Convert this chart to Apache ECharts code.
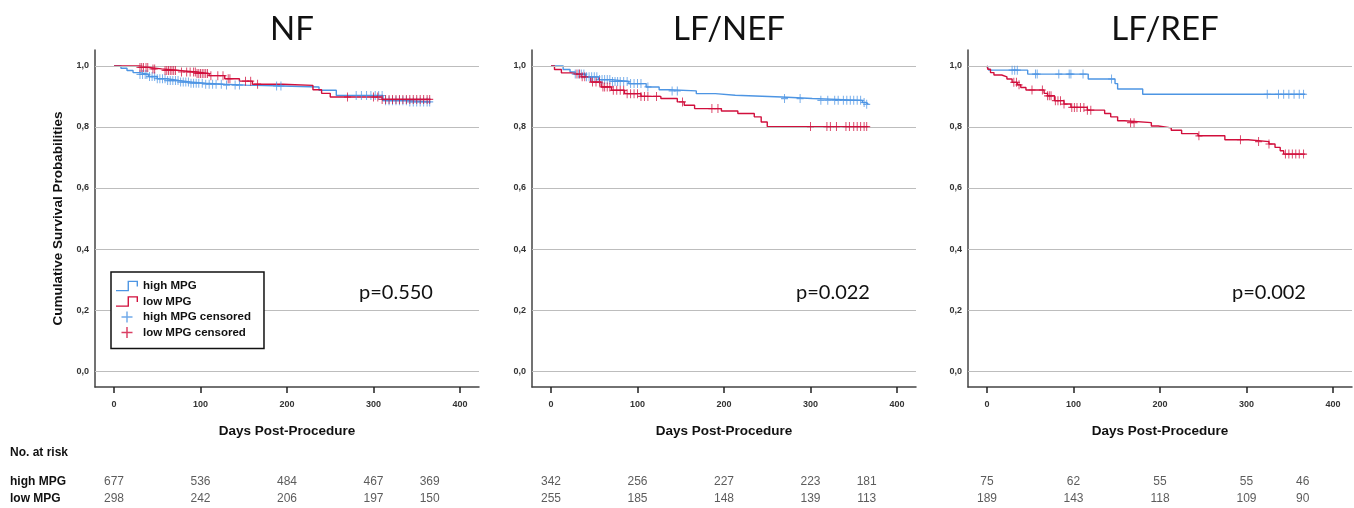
<!DOCTYPE html>
<html>
<head>
<meta charset="utf-8">
<script src="https://cdn.jsdelivr.net/npm/echarts@6/dist/echarts.min.js"></script>
<style>
  html, body { margin: 0; padding: 0; background: #fff; }
  #chart { width: 1354px; height: 508px; }
</style>
</head>
<body>
<div id="chart"></div>
<script>
// panels
const panelTitles = ['NF', 'LF/NEF', 'LF/REF']
const pValues = ['p=0.550', 'p=0.022', 'p=0.002']

// Kaplan-Meier steps: time (days) and survival after that time
const nfHighT = [0, 8, 15, 22, 30, 40, 50, 61, 75, 88, 105, 126, 153, 195, 237, 257, 311, 340, 366]
const nfHighS = [1, 0.992, 0.985, 0.978, 0.972, 0.965, 0.958, 0.952, 0.947, 0.943, 0.94, 0.937, 0.934, 0.931, 0.92, 0.903, 0.886, 0.882, 0.882]
const nfLowT = [0, 29, 40, 55, 75, 95, 110, 128, 145, 160, 195, 230, 240, 250, 310, 366]
const nfLowS = [1, 0.995, 0.99, 0.985, 0.98, 0.975, 0.968, 0.958, 0.95, 0.94, 0.936, 0.922, 0.91, 0.898, 0.89, 0.89]

const nefHighT = [0, 14, 22, 28, 40, 55, 70, 90, 110, 125, 137, 168, 190, 213, 267, 302, 360, 364, 367]
const nefHighS = [1, 0.988, 0.98, 0.973, 0.964, 0.955, 0.949, 0.942, 0.931, 0.922, 0.918, 0.909, 0.904, 0.898, 0.893, 0.887, 0.88, 0.874, 0.874]
const nefLowT = [0, 4, 12, 23, 35, 46, 58, 70, 85, 104, 127, 146, 154, 166, 197, 216, 235, 243, 250, 367]
const nefLowS = [1, 0.988, 0.977, 0.973, 0.964, 0.947, 0.931, 0.92, 0.909, 0.9, 0.893, 0.882, 0.871, 0.86, 0.852, 0.844, 0.833, 0.816, 0.801, 0.801]

const refHighT = [0, 2, 47, 117, 148, 151, 180, 368]
const refHighS = [1, 0.986, 0.973, 0.957, 0.942, 0.924, 0.907, 0.907]
const refLowT = [0, 1, 4, 8, 17, 23, 29, 35, 39, 45, 66, 70, 78, 89, 97, 116, 136, 143, 151, 159, 190, 198, 213, 225, 244, 275, 302, 326, 333, 339, 343, 368]
const refLowS = [1, 0.989, 0.978, 0.97, 0.964, 0.957, 0.946, 0.938, 0.929, 0.921, 0.91, 0.902, 0.886, 0.875, 0.864, 0.855, 0.844, 0.833, 0.82, 0.814, 0.803, 0.797, 0.789, 0.778, 0.771, 0.758, 0.752, 0.744, 0.733, 0.722, 0.711, 0.711]

// censoring times (days)
const nfHighCens = [30, 33, 36, 38, 41, 44, 47, 50, 53, 56, 59, 62, 65, 68, 71, 74, 77, 80, 83, 86, 89, 92, 95, 98, 102, 106, 110, 114, 118, 124, 130, 140, 145, 188, 193, 280, 286, 292, 297, 302, 306, 310, 314, 318, 322, 326, 330, 334, 338, 342, 346, 350, 354, 358, 362, 365]
const nfLowCens = [30, 32, 34, 37, 39, 45, 47, 59, 61, 63, 65, 67, 69, 71, 78, 84, 88, 92, 94, 96, 98, 100, 102, 104, 106, 108, 112, 120, 126, 132, 134, 152, 158, 166, 270, 300, 305, 310, 314, 318, 322, 326, 330, 334, 338, 342, 346, 350, 354, 358, 362, 365]
const nefHighCens = [28, 32, 35, 38, 41, 44, 47, 50, 53, 56, 59, 62, 65, 68, 71, 74, 77, 80, 84, 88, 92, 96, 100, 104, 112, 140, 146, 270, 288, 312, 320, 328, 332, 338, 342, 346, 350, 354, 358, 362, 365]
const nefLowCens = [30, 33, 36, 39, 48, 52, 56, 60, 62, 65, 68, 72, 76, 80, 84, 88, 92, 96, 100, 104, 108, 112, 122, 152, 186, 193, 300, 319, 323, 330, 341, 345, 350, 354, 358, 362, 365]
const refHighCens = [29, 32, 35, 56, 58, 83, 95, 97, 111, 144, 324, 337, 343, 349, 355, 361, 366]
const refLowCens = [31, 34, 37, 52, 64, 70, 72, 74, 79, 82, 85, 89, 98, 101, 104, 108, 112, 116, 120, 166, 170, 245, 293, 314, 326, 345, 349, 353, 357, 361, 366]

// numbers at risk
const riskDays = [0, 100, 200, 300, 365]
const riskGroups = ['high MPG', 'low MPG']
const riskNFHigh = [677, 536, 484, 467, 369]
const riskNFLow = [298, 242, 206, 197, 150]
const riskNEFHigh = [342, 256, 227, 223, 181]
const riskNEFLow = [255, 185, 148, 139, 113]
const riskREFHigh = [75, 62, 55, 55, 46]
const riskREFLow = [189, 143, 118, 109, 90]

const xTicks = [0, 100, 200, 300, 400]
const yTicks = [0, 0.2, 0.4, 0.6, 0.8, 1.0]

const blue = '#4d95e3'
const red = '#d10f3c'
const plusPath = 'path://M0,5.2h12v1.6h-12zM5.2,0h1.6v12h-1.6z'
const stepPath = 'path://M0,9.4h10v-8h9v5h-1.2v-3.8h-6.6v8h-11.2z'

const panels = [
  { hiT: nfHighT, hiS: nfHighS, loT: nfLowT, loS: nfLowS, hiC: nfHighCens, loC: nfLowCens, rHi: riskNFHigh, rLo: riskNFLow },
  { hiT: nefHighT, hiS: nefHighS, loT: nefLowT, loS: nefLowS, hiC: nefHighCens, loC: nefLowCens, rHi: riskNEFHigh, rLo: riskNEFLow },
  { hiT: refHighT, hiS: refHighS, loT: refLowT, loS: refLowS, hiC: refHighCens, loC: refLowCens, rHi: riskREFHigh, rLo: riskREFLow }
]
const gridLefts = [95, 532, 968]
const gridWidth = 384

function stepValue(ts, ss, t) {
  let v = ss[0]
  for (let i = 0; i < ts.length; i++) {
    if (ts[i] <= t) v = ss[i]
  }
  return v
}

const grids = []
const xAxes = []
const yAxes = []
const series = []
const titles = []

panels.forEach(function(p, i) {
  const left = gridLefts[i]
  grids.push({ left: left, width: gridWidth, top: 50, height: 337 })
  grids.push({ left: left, width: gridWidth, top: 473, height: 34 })
  const g = i * 2
  xAxes.push({
    gridIndex: g, type: 'value', min: -22, max: 422,
    axisLine: { onZero: false, lineStyle: { color: '#444', width: 1.5 } },
    axisTick: { length: 6, lineStyle: { color: '#222', width: 1.5 }, customValues: xTicks },
    axisLabel: { customValues: xTicks, color: '#333', fontWeight: 'bold', fontSize: 9, fontFamily: 'Liberation Sans', margin: 13 },
    splitLine: { show: false },
    name: 'Days Post-Procedure', nameLocation: 'middle', nameGap: 37,
    nameTextStyle: { color: '#111', fontWeight: 'bold', fontSize: 13.5, fontFamily: 'Liberation Sans' }
  })
  yAxes.push({
    gridIndex: g, type: 'value', min: -0.052, max: 1.052,
    axisLine: { show: true, onZero: false, lineStyle: { color: '#444', width: 1.5 } },
    axisTick: { show: false },
    axisLabel: {
      customValues: yTicks, color: '#333', fontWeight: 'bold', fontSize: 9, fontFamily: 'Liberation Sans', margin: 6,
      formatter: function(v) { return v.toFixed(1).replace('.', ',') }
    },
    splitLine: { show: false },
    name: i === 0 ? 'Cumulative Survival Probabilities' : '',
    nameLocation: 'middle', nameGap: 30,
    nameTextStyle: { color: '#111', fontWeight: 'bold', fontSize: 13.5, fontFamily: 'Liberation Sans' }
  })
  // risk table axes
  xAxes.push({ gridIndex: g + 1, type: 'value', min: -22, max: 422, show: false })
  yAxes.push({
    gridIndex: g + 1, type: 'category', data: riskGroups, inverse: true,
    axisLine: { show: false }, axisTick: { show: false }, splitLine: { show: false },
    axisLabel: {
      show: i === 0, align: 'left', margin: 85, color: '#111', fontWeight: 'bold', fontSize: 12, fontFamily: 'Liberation Sans'
    }
  })

  series.push({
    name: 'high MPG', type: 'line', step: 'end', xAxisIndex: g, yAxisIndex: g,
    data: p.hiT.map(function(t, k) { return [t, p.hiS[k]] }),
    showSymbol: false, lineStyle: { color: blue, width: 1.4 }, itemStyle: { color: blue },
    z: 3, animation: false,
    markLine: {
      silent: true, symbol: 'none', label: { show: false }, animation: false,
      lineStyle: { color: '#bdbdbd', type: 'solid', width: 1 },
      data: yTicks.map(function(v) { return { yAxis: v } })
    }
  })
  series.push({
    name: 'low MPG', type: 'line', step: 'end', xAxisIndex: g, yAxisIndex: g,
    data: p.loT.map(function(t, k) { return [t, p.loS[k]] }),
    showSymbol: false, lineStyle: { color: red, width: 1.4 }, itemStyle: { color: red },
    z: 4, animation: false
  })
  series.push({
    name: 'high MPG censored', type: 'scatter', xAxisIndex: g, yAxisIndex: g,
    data: p.hiC.map(function(t) { return [t, stepValue(p.hiT, p.hiS, t)] }),
    symbol: plusPath, symbolSize: [7, 9], itemStyle: { color: blue }, z: 5, animation: false
  })
  series.push({
    name: 'low MPG censored', type: 'scatter', xAxisIndex: g, yAxisIndex: g,
    data: p.loC.map(function(t) { return [t, stepValue(p.loT, p.loS, t)] }),
    symbol: plusPath, symbolSize: [7, 9], itemStyle: { color: red }, z: 6, animation: false
  })
  series.push({
    type: 'scatter', xAxisIndex: g + 1, yAxisIndex: g + 1, symbolSize: 0, silent: true, animation: false,
    label: { show: true, position: 'inside', formatter: function(d) { return d.value[2] }, color: '#333', fontSize: 12, fontFamily: 'Liberation Sans' },
    data: riskDays.map(function(d, k) { return [d, 'high MPG', p.rHi[k]] }).concat(
      riskDays.map(function(d, k) { return [d, 'low MPG', p.rLo[k]] }))
  })

  titles.push({
    text: panelTitles[i], left: left + gridWidth / 2, top: 8, textAlign: 'center',
    textStyle: { fontFamily: 'Lato', fontWeight: 'normal', fontSize: 33, color: '#111' }
  })
  titles.push({
    text: pValues[i], left: left + 259, top: 278,
    textStyle: { fontFamily: 'Lato', fontWeight: 'normal', fontSize: 20, color: '#111' }
  })
})

const chart = echarts.init(document.getElementById('chart'))
chart.setOption({
  animation: false,
  title: titles,
  grid: grids,
  xAxis: xAxes,
  yAxis: yAxes,
  legend: {
    left: 111, top: 272, orient: 'vertical', z: 20,
    backgroundColor: '#fff', borderColor: '#111', borderWidth: 1.5,
    padding: [8, 13, 10, 5], itemGap: 3.5, itemWidth: 22, itemHeight: 11,
    textStyle: { fontFamily: 'Liberation Sans', fontWeight: 'bold', fontSize: 11.5, color: '#111' },
    data: [
      { name: 'high MPG', icon: stepPath, itemStyle: { color: blue } },
      { name: 'low MPG', icon: stepPath, itemStyle: { color: red } },
      { name: 'high MPG censored', icon: plusPath, itemStyle: { color: blue } },
      { name: 'low MPG censored', icon: plusPath, itemStyle: { color: red } }
    ]
  },
  graphic: [{
    type: 'text', left: 10, top: 447,
    style: { text: 'No. at risk', font: 'bold 12px "Liberation Sans"', fill: '#111' }
  }],
  series: series
})
</script>
</body>
</html>
